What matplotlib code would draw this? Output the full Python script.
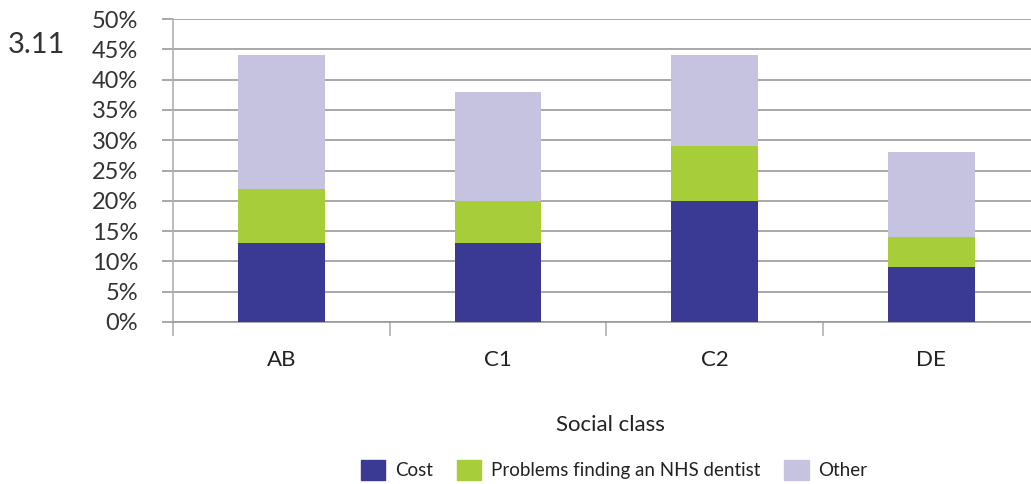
import numpy as np
import matplotlib.pyplot as plt
from matplotlib.patches import Patch

plt.rcParams['font.family'] = ['Lato', 'DejaVu Sans']

classes = ['AB', 'C1', 'C2', 'DE']
cost = [13, 13, 20, 9]
nhs = [9, 7, 9, 5]
other = [22, 18, 15, 14]
series_names = ['Cost', 'Problems finding an NHS dentist', 'Other']
colors = ['#3a3a94', '#a7ce38', '#c6c3e0']

fig = plt.figure(figsize=(10.31, 4.84), dpi=100)
ax = fig.add_axes([173/1031, 162/484, 1 - 173/1031, 303/484])

x = np.arange(len(classes))
bottom = np.zeros(len(classes))
for vals, c in zip([cost, nhs, other], colors):
    ax.bar(x, vals, 0.40, bottom=bottom, color=c, zorder=3)
    bottom += np.array(vals)

ax.set_ylim(0, 50)
ax.set_xlim(-0.5, 3.46)
ax.set_yticks(np.arange(0, 51, 5))
ax.set_yticklabels(['%d%%' % v for v in range(0, 51, 5)], fontsize=17, color='#333333')
ax.yaxis.grid(True, color='#9a9a9a', lw=1.2, zorder=0)
ax.tick_params(axis='y', length=8, color='#9a9a9a', width=1.2, pad=17)

ax.set_xticks([-0.5, 0.5, 1.5, 2.5])
ax.set_xticklabels([])
ax.tick_params(axis='x', which='major', length=10, color='#b0b0b0', width=1.2)
ax.set_xticks(x, minor=True)
ax.set_xticklabels(classes, minor=True, fontsize=16, color='#222222')
ax.tick_params(axis='x', which='minor', length=0, pad=20)

for s in ['top', 'right']:
    ax.spines[s].set_visible(False)
ax.spines['left'].set_color('#b0b0b0')
ax.spines['left'].set_linewidth(1.2)
ax.spines['bottom'].set_color('#9a9a9a')
ax.spines['bottom'].set_linewidth(1.2)

ax.set_xlabel('Social class', fontsize=16, color='#222222')
ax.xaxis.set_label_coords((610 - 173) / 858, -93 / 303)

fig.text(8/1031, 1 - 45/484, '3.11', fontsize=21, color='#333333', va='center')

handles = [Patch(color=c) for c in colors]
fig.legend(handles, series_names, loc='center', bbox_to_anchor=(614/1031, 14/484),
           ncol=3, frameon=False, fontsize=13.5, handlelength=1.3, handleheight=1.3,
           columnspacing=1.3, handletextpad=0.5, labelcolor='#222222')

fig.savefig('out.png', dpi=100)
